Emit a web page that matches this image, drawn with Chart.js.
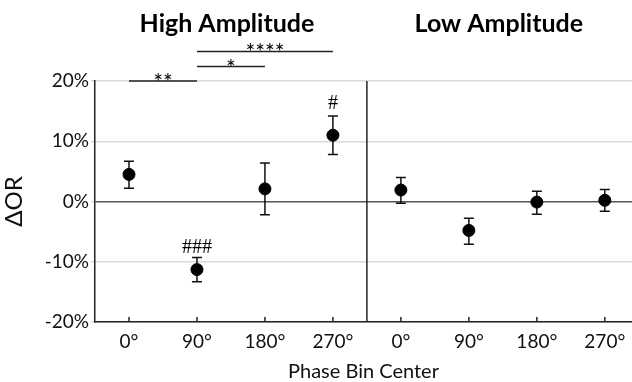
<!DOCTYPE html>
<html>
<head>
<meta charset="utf-8">
<script src="https://cdn.jsdelivr.net/npm/chart.js@4"></script>
<style>
  body { margin: 0; background: #fff; }
  #wrap { width: 632px; height: 382px; }
</style>
</head>
<body>
<div id="wrap"><canvas id="phase-chart" width="632" height="382"></canvas></div>
<script>
const phaseLabels = ['0°', '90°', '180°', '270°'];
const panelTitles = ['High Amplitude', 'Low Amplitude'];

// values in %
const highMean = [4.5, -11.3, 2.1, 11.0];
const highUpper = [6.7, -9.3, 6.4, 14.2];
const highLower = [2.2, -13.3, -2.2, 7.8];

const lowMean = [1.9, -4.8, -0.1, 0.2];
const lowUpper = [4.0, -2.8, 1.7, 2.0];
const lowLower = [-0.3, -7.1, -2.1, -1.6];

// markers above points: [bin index, y value, text]
const hashMarks = [[1, -7.6, '###'], [3, 16.2, '#']];
// significance bars: [from bin, to bin, y value, stars]
const sigBars = [[0, 1, 20, '**'], [1, 2, 22.4, '*'], [1, 3, 24.9, '****']];

const fontFam = 'Lato, "Open Sans", sans-serif';

function toPoints(vals, offset) {
    return vals.map((v, i) => ({ x: i + offset, y: v }));
}

const errorBars = {
    id: 'errorBars',
    beforeDatasetsDraw(chart) {
        const { ctx, scales: { x, y } } = chart;
        const sets = [[highUpper, highLower, 0.5], [lowUpper, lowLower, 4.5]];
        ctx.save();
        ctx.strokeStyle = '#111';
        ctx.lineWidth = 1.5;
        sets.forEach(([up, lo, off]) => {
            up.forEach((u, i) => {
                const px = x.getPixelForValue(i + off);
                const pu = y.getPixelForValue(u);
                const pl = y.getPixelForValue(lo[i]);
                ctx.beginPath();
                ctx.moveTo(px, pu); ctx.lineTo(px, pl);
                ctx.moveTo(px - 5, pu); ctx.lineTo(px + 5, pu);
                ctx.moveTo(px - 5, pl); ctx.lineTo(px + 5, pl);
                ctx.stroke();
            });
        });
        ctx.restore();
    },
    afterDraw(chart) {
        const { ctx, chartArea, scales: { x, y } } = chart;
        ctx.save();
        // divider between panels
        ctx.strokeStyle = '#222';
        ctx.lineWidth = 1.5;
        const dx = x.getPixelForValue(4);
        ctx.beginPath();
        ctx.moveTo(dx, chartArea.top);
        ctx.lineTo(dx, chartArea.bottom);
        ctx.stroke();
        // inner tick marks on x axis
        for (let i = 0; i < 8; i++) {
            const px = x.getPixelForValue(i + 0.5);
            ctx.beginPath();
            ctx.moveTo(px, chartArea.bottom);
            ctx.lineTo(px, chartArea.bottom - 5);
            ctx.stroke();
        }
        // panel titles
        ctx.fillStyle = '#000';
        ctx.font = 'bold 25px ' + fontFam;
        ctx.textAlign = 'center';
        ctx.textBaseline = 'alphabetic';
        ctx.fillText(panelTitles[0], x.getPixelForValue(2) - 4, 32);
        ctx.fillText(panelTitles[1], x.getPixelForValue(6) - 4, 32);
        // significance bars
        ctx.lineWidth = 1.5;
        ctx.font = '23px ' + fontFam;
        sigBars.forEach(([a, b, v, s]) => {
            const x1 = x.getPixelForValue(a + 0.5);
            const x2 = x.getPixelForValue(b + 0.5);
            const py = y.getPixelForValue(v);
            ctx.beginPath();
            ctx.moveTo(x1, py); ctx.lineTo(x2, py);
            ctx.stroke();
            ctx.fillText(s, (x1 + x2) / 2, py + 9);
        });
        // hash markers
        ctx.font = '20px "Liberation Serif", serif';
        ctx.textBaseline = 'middle';
        hashMarks.forEach(([i, v, s]) => {
            ctx.fillText(s, x.getPixelForValue(i + 0.5), y.getPixelForValue(v));
        });
        ctx.restore();
    }
};

const ctx = document.getElementById('phase-chart').getContext('2d');
const phaseChart = new Chart(ctx, {
    type: 'scatter',
    data: {
        datasets: [{
            label: panelTitles[0],
            data: toPoints(highMean, 0.5),
            backgroundColor: '#000',
            borderColor: '#000',
            pointRadius: 6,
            pointHoverRadius: 6
        }, {
            label: panelTitles[1],
            data: toPoints(lowMean, 4.5),
            backgroundColor: '#000',
            borderColor: '#000',
            pointRadius: 6,
            pointHoverRadius: 6
        }]
    },
    options: {
        responsive: false,
        animation: false,
        layout: { autoPadding: false, padding: { top: 81, right: 0, left: 0, bottom: 0 } },
        plugins: {
            legend: { display: false },
            tooltip: { enabled: false }
        },
        scales: {
            x: {
                type: 'linear',
                min: 0,
                max: 7.9,
                afterBuildTicks(axis) {
                    axis.ticks = [0.5, 1.5, 2.5, 3.5, 4.5, 5.5, 6.5, 7.5].map(v => ({ value: v }));
                },
                afterFit(axis) {
                    axis.paddingRight = 0;
                    axis.paddingLeft = 0;
                    axis.height = 60;
                },
                ticks: {
                    callback: v => phaseLabels[Math.floor(v) % 4],
                    color: '#111',
                    font: { size: 19, family: fontFam },
                    padding: 8,
                    maxRotation: 0,
                    autoSkip: false
                },
                grid: { display: false, drawTicks: false },
                border: { display: true, color: '#222', width: 1.5 },
                title: {
                    display: true,
                    text: 'Phase Bin Center',
                    color: '#111',
                    font: { size: 20, family: fontFam },
                    padding: { top: 0, bottom: -2 }
                }
            },
            y: {
                min: -20,
                max: 20,
                afterBuildTicks(axis) {
                    axis.ticks = [-20, -10, 0, 10, 20].map(v => ({ value: v }));
                },
                afterFit(axis) { axis.width = 95; },
                ticks: {
                    callback: v => v + '%',
                    color: '#111',
                    font: { size: 19, family: fontFam },
                    padding: 2
                },
                grid: {
                    color: c => c.tick && c.tick.value === 0 ? '#555' : '#d9d9d9',
                    lineWidth: 1.5,
                    tickLength: 4,
                    tickColor: '#d9d9d9'
                },
                border: { display: true, color: '#222', width: 1.5 },
                title: {
                    display: true,
                    text: 'ΔOR',
                    color: '#111',
                    font: { size: 24, family: fontFam },
                    padding: { top: 0, bottom: 6 }
                }
            }
        }
    },
    plugins: [errorBars]
});
</script>
</body>
</html>
